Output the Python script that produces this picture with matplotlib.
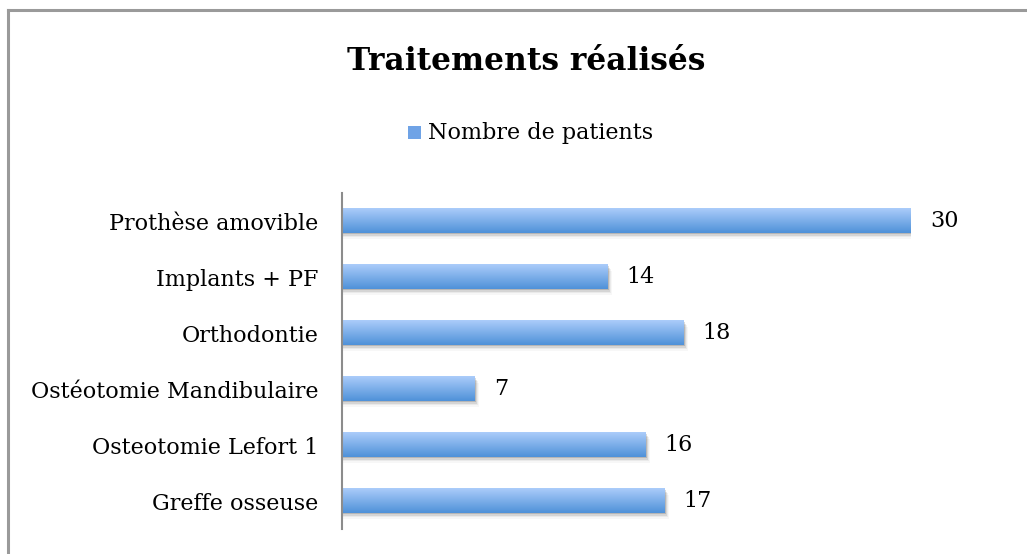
import matplotlib
matplotlib.use("Agg")
import matplotlib.pyplot as plt
import numpy as np
from matplotlib.patches import Rectangle
from matplotlib.lines import Line2D

categories = ["Prothèse amovible", "Implants + PF", "Orthodontie",
              "Ostéotomie Mandibulaire", "Osteotomie Lefort 1", "Greffe osseuse"]
values = [30, 14, 18, 7, 16, 17]
series_name = "Nombre de patients"
title = "Traitements réalisés"

W, H = 1027, 554
fig = plt.figure(figsize=(W / 100, H / 100), dpi=100)
font = "DejaVu Serif"

# outer frame (left and top visible)
fig.add_artist(Line2D([8 / W, 8 / W], [0, 1 - 10 / H], color="#9a9a9a", lw=2.2, transform=fig.transFigure))
fig.add_artist(Line2D([8 / W, 1], [1 - 10 / H, 1 - 10 / H], color="#9a9a9a", lw=2.2, transform=fig.transFigure))

ax_l, ax_r, ax_t, ax_b = 342, 911, 193, 529
ax = fig.add_axes([ax_l / W, 1 - ax_b / H, (ax_r - ax_l) / W, (ax_b - ax_t) / H])

n = len(categories)
ypos = np.arange(n)[::-1]
h = 0.43
ax.set_xlim(0, 30)
ax.set_ylim(-0.5, n - 0.5)

top_c = np.array([0.67, 0.80, 0.98])
bot_c = np.array([0.31, 0.57, 0.85])
grad = np.linspace(0, 1, 64)[:, None, None]
grad_img = top_c * (1 - grad) + bot_c * grad

for y, v in zip(ypos, values):
    # soft shadow
    for k, a in enumerate([0.14, 0.09, 0.05, 0.03]):
        ax.add_patch(Rectangle((0, y - h / 2 - 0.025 - 0.025 * k), v + 0.06 + 0.06 * k, h,
                               facecolor="black", alpha=a, lw=0, zorder=1))
    ax.imshow(grad_img, extent=(0, v, y - h / 2, y + h / 2), aspect="auto",
              origin="upper", zorder=2, interpolation="bilinear")
    ax.text(v + 1.0, y, str(v), va="center", ha="left", fontsize=16,
            family=font, color="black", clip_on=False)

ax.set_xlim(0, 30)
ax.set_ylim(-0.5, n - 0.5)
ax.set_yticks(ypos)
ax.set_yticklabels(categories, family=font, fontsize=16)
ax.tick_params(axis="y", length=0, pad=17)
ax.set_xticks([])
for s in ["top", "right", "bottom"]:
    ax.spines[s].set_visible(False)
ax.spines["left"].set_color("#8c8c8c")
ax.spines["left"].set_linewidth(1.5)

fig.text(526 / W, 1 - 61 / H, title, ha="center", va="center", fontsize=22.5,
         fontweight="bold", family=font)

# legend
fig.add_artist(Rectangle((408 / W, 1 - 139 / H), 13 / W, 13 / H, transform=fig.transFigure,
                         facecolor="#6fa3e6", lw=0))
fig.text(428 / W, 1 - 133 / H, series_name, ha="left", va="center", fontsize=16, family=font)

fig.savefig("out.png", dpi=100)
